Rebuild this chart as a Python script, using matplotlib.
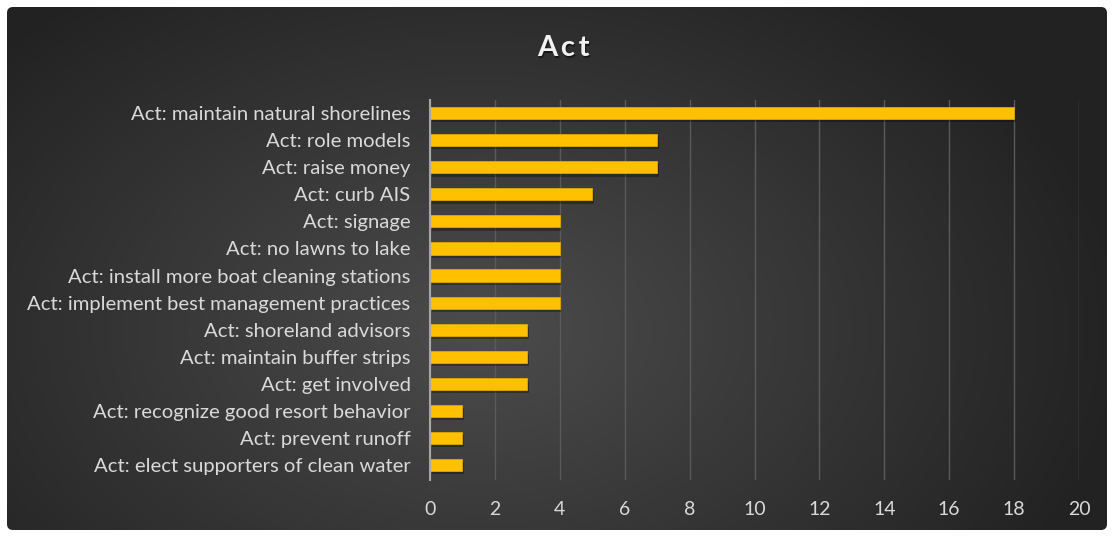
import numpy as np
import matplotlib
matplotlib.use("Agg")
import matplotlib.pyplot as plt
from matplotlib.patches import FancyBboxPatch

categories = [
    "Act: maintain natural shorelines",
    "Act: role models",
    "Act: raise money",
    "Act: curb AIS",
    "Act: signage",
    "Act: no lawns to lake",
    "Act: install more boat cleaning stations",
    "Act: implement best management practices",
    "Act: shoreland advisors",
    "Act: maintain buffer strips",
    "Act: get involved",
    "Act: recognize good resort behavior",
    "Act: prevent runoff",
    "Act: elect supporters of clean water",
]
values = [18, 7, 7, 5, 4, 4, 4, 4, 3, 3, 3, 1, 1, 1]
xticks = [0, 2, 4, 6, 8, 10, 12, 14, 16, 18, 20]
title = "Act"

plt.rcParams['font.family'] = ['Lato', 'DejaVu Sans']

W, H = 1114, 537
fig = plt.figure(figsize=(W / 100, H / 100), dpi=100)
fig.patch.set_facecolor('white')

# background panel with radial gradient
bg = fig.add_axes([0, 0, 1, 1])
bg.set_xlim(0, W)
bg.set_ylim(H, 0)
bg.axis('off')
yy, xx = np.mgrid[0:H, 0:W]
cx, cy = 480, 330
d = np.sqrt(((xx - cx) / 650.0) ** 2 + ((yy - cy) / 430.0) ** 2)
d = np.clip(d, 0, 1)
light = np.array([0x4c, 0x4c, 0x4c]) / 255
dark = np.array([0x22, 0x22, 0x22]) / 255
img = light[None, None, :] * (1 - d[..., None]) + dark[None, None, :] * d[..., None]
im = bg.imshow(img, extent=[0, W, H, 0], zorder=0)
clip = FancyBboxPatch((7, 7), 1100, 523, boxstyle="round,pad=0,rounding_size=6",
                      transform=bg.transData, facecolor='none', edgecolor='none')
bg.add_patch(clip)
im.set_clip_path(clip)

ax = fig.add_axes([430 / W, 1 - 480 / H, (1079 - 430) / W, 380 / H])
ax.set_facecolor('none')
pos = np.arange(len(categories))
# soft shadow
ax.barh(pos + 0.12, values, height=0.45, left=0.05, color='black', alpha=0.3, zorder=2)
ax.barh(pos, values, height=0.45, color='#FFC000', edgecolor='#E0A800', linewidth=0.6, zorder=3)
ax.set_ylim(13.55, -0.48)
ax.set_xlim(0, 20)
ax.set_xticks(xticks)
ax.set_xticklabels([str(t) for t in xticks])
ax.set_yticks(pos)
ax.set_yticklabels(categories)
ax.tick_params(axis='y', length=0, pad=14, labelsize=14.6, labelcolor='#d9d9d9')
ax.tick_params(axis='x', length=0, pad=15, labelsize=14, labelcolor='#d9d9d9')
ax.grid(axis='x', color='#5a5a5a', linewidth=1.0, zorder=0)
ax.set_axisbelow(True)
for s in ['top', 'right', 'bottom']:
    ax.spines[s].set_visible(False)
ax.spines['left'].set_color('#a6a6a6')
ax.spines['left'].set_linewidth(1.5)
ax.spines['left'].set_zorder(4)

title_spaced = "\u2009".join(title)
fig.text(563 / W + 0.0015, 1 - 48 / H - 0.004, title_spaced, ha='center', va='center', fontsize=21,
         fontweight='bold', color='black', alpha=0.5)
fig.text(563 / W, 1 - 48 / H, title_spaced, ha='center', va='center', fontsize=21,
         fontweight='bold', color='#f2f2f2')

fig.savefig('out.png', dpi=100, facecolor=fig.get_facecolor())
